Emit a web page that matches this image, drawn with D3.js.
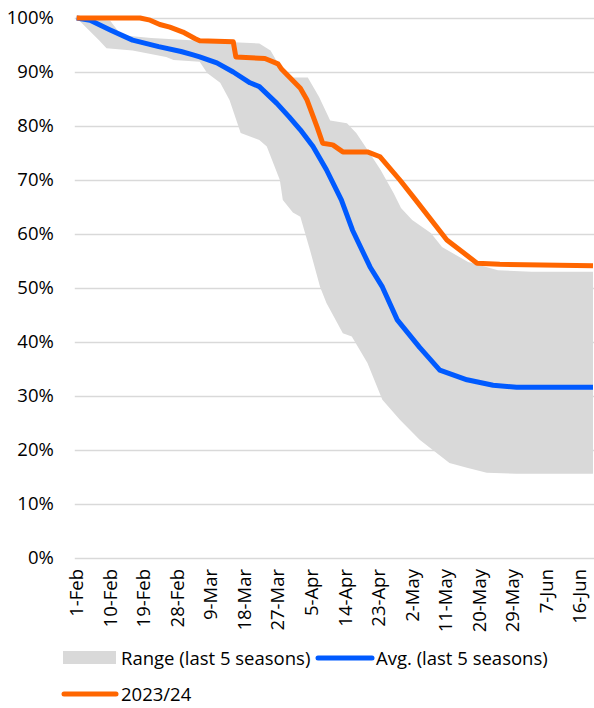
<!DOCTYPE html>
<html>
<head>
<meta charset="utf-8">
<script src="https://cdn.jsdelivr.net/npm/d3@7"></script>
<style>
  body { margin: 0; background: #fff; }
  text { font-family: "Open Sans", "Noto Sans", sans-serif; fill: #000; }
</style>
</head>
<body>
<script>
// x tick labels, one every 9 days from 1-Feb (day 0)
var tickLabels = ["1-Feb", "10-Feb", "19-Feb", "28-Feb", "9-Mar", "18-Mar", "27-Mar", "5-Apr",
                  "14-Apr", "23-Apr", "2-May", "11-May", "20-May", "29-May", "7-Jun", "16-Jun"];
var nDays = 140; // daily categories, 1-Feb .. 20-Jun

// range of last 5 seasons (upper edge), day index / percent
var hiDays = [0, 9, 12, 20, 33, 49, 52, 54.5, 58, 62, 65, 68, 72.5, 75, 78, 81.5, 85, 87, 90, 95, 98, 105, 113, 122, 138.5];
var hiVals = [100, 99.5, 96.8, 96.3, 95.8, 95.3, 94, 91, 89, 89, 85.4, 81, 80.5, 78.7, 75.6, 71.9, 67.6, 64.8, 62.6, 60.2, 57.6, 54.8, 53.3, 53, 53];

// range of last 5 seasons (lower edge)
var loDays = [0, 6, 8, 15, 24, 26, 33, 35, 38.5, 41, 44, 49, 51, 54.5, 55.3, 58, 60, 62.6, 65.3, 67, 71.4, 73.8, 78, 82, 86.7, 92, 100, 104.7, 110, 118, 138.5];
var loVals = [100, 95.9, 94.4, 94, 92.8, 92.2, 91.9, 89.8, 88, 84.8, 78.7, 77.4, 76.2, 70, 66.3, 64, 63.2, 57, 50.2, 47.2, 41.6, 41, 36.1, 29.3, 25.6, 21.9, 17.6, 16.7, 15.8, 15.6, 15.6];

// average of last 5 seasons
var avgDays = [0, 3.6, 9, 15, 22, 28, 31, 33, 37.6, 42, 46.5, 49, 53.7, 57, 60, 63.4, 67, 71, 74, 78.7, 82, 86, 92, 97.4, 104.7, 111.7, 118, 138.5];
var avgVals = [100, 99.6, 97.8, 95.9, 94.7, 93.8, 93.2, 92.8, 91.7, 90, 88, 87.3, 84.2, 81.7, 79.3, 76.2, 71.9, 66.3, 60.7, 53.9, 50.2, 44.1, 39, 34.8, 33, 32, 31.6, 31.6];

// season 2023/24
var curDays = [0, 17, 19.7, 22.3, 25, 28.5, 31.7, 33, 42, 42.7, 50.5, 54, 55, 60, 61.8, 64.5, 66, 68.7, 71.4, 78, 81.4, 86.7, 90.7, 99.3, 107.4, 113.5, 138.5];
var curVals = [100, 100, 99.6, 98.8, 98.3, 97.4, 96.2, 95.8, 95.6, 92.8, 92.5, 91.5, 90.5, 87, 84.8, 79.8, 76.8, 76.5, 75.2, 75.2, 74.3, 70, 66.5, 58.9, 54.6, 54.4, 54.1];

var yTicks = [0, 10, 20, 30, 40, 50, 60, 70, 80, 90, 100];

var W = 594, H = 708;
var plot = { left: 74.8, top: 18, bottom: 558 };
var step = 3.728;
var fontSize = "18.5px";

var svg = d3.select("body").append("svg")
    .attr("width", W)
    .attr("height", H);

var x = d3.scaleLinear().domain([-0.5, nDays - 0.5]).range([plot.left, plot.left + nDays * step]);
var y = d3.scaleLinear().domain([0, 100]).range([plot.bottom, plot.top]);

// gridlines
var gY = svg.append("g")
    .attr("transform", "translate(" + plot.left + ",0)")
    .call(d3.axisLeft(y).tickValues(yTicks).tickSize(-(W - plot.left)).tickPadding(21)
      .tickFormat(function(d) { return d + "%"; }));
gY.select(".domain").remove();
gY.selectAll(".tick line").attr("stroke", "#d9d9d9").attr("stroke-width", 1.3);
gY.selectAll(".tick text").style("font-size", fontSize);

// range area: upper edge forward, lower edge back
var hiPts = hiDays.map(function(d, i) { return [x(d), y(hiVals[i])]; });
var loPts = loDays.map(function(d, i) { return [x(d), y(loVals[i])]; }).reverse();
svg.append("path")
    .attr("d", d3.line()(hiPts.concat(loPts)) + "Z")
    .attr("fill", "#d9d9d9");

var line = d3.line()
    .x(function(d) { return x(d[0]); })
    .y(function(d) { return y(d[1]); });

svg.append("path")
    .datum(avgDays.map(function(d, i) { return [d, avgVals[i]]; }))
    .attr("d", line)
    .attr("fill", "none")
    .attr("stroke", "#005aff")
    .attr("stroke-width", 5)
    .attr("stroke-linejoin", "round");

svg.append("path")
    .datum(curDays.map(function(d, i) { return [d, curVals[i]]; }))
    .attr("d", line)
    .attr("fill", "none")
    .attr("stroke", "#ff6600")
    .attr("stroke-width", 5)
    .attr("stroke-linejoin", "round");

// x labels, rotated
var gX = svg.append("g");
gX.selectAll("text")
    .data(tickLabels)
    .enter().append("text")
    .attr("transform", function(d, i) { return "translate(" + x(i * 9) + ",569) rotate(-90)"; })
    .attr("text-anchor", "end")
    .attr("dy", "0.35em")
    .style("font-size", fontSize)
    .text(function(d) { return d; });

// legend
var leg = svg.append("g");
leg.append("rect").attr("x", 63).attr("y", 651).attr("width", 53).attr("height", 13).attr("fill", "#d9d9d9");
leg.append("text").attr("x", 121).attr("y", 665).style("font-size", fontSize).text("Range (last 5 seasons)");
leg.append("line").attr("x1", 318).attr("x2", 372).attr("y1", 658).attr("y2", 658)
    .attr("stroke", "#005aff").attr("stroke-width", 5).attr("stroke-linecap", "round");
leg.append("text").attr("x", 376).attr("y", 665).style("font-size", fontSize).text("Avg. (last 5 seasons)");
leg.append("line").attr("x1", 64).attr("x2", 116).attr("y1", 694).attr("y2", 694)
    .attr("stroke", "#ff6600").attr("stroke-width", 5).attr("stroke-linecap", "round");
leg.append("text").attr("x", 121).attr("y", 701).style("font-size", fontSize).text("2023/24");
</script>
</body>
</html>
